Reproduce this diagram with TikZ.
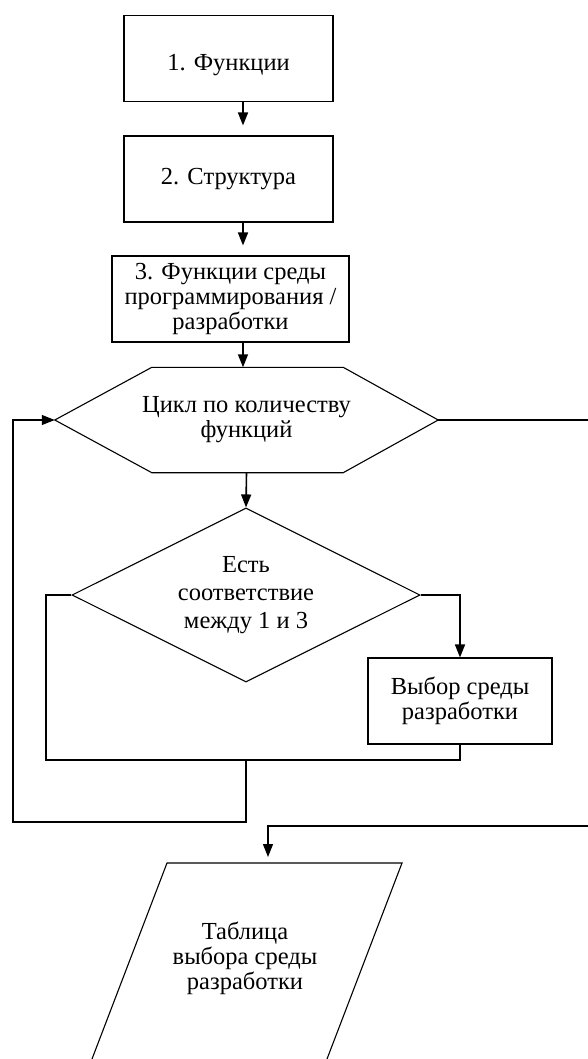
\documentclass[tikz,border=0pt]{standalone}
\usepackage{fontspec}
\setmainfont{Liberation Serif}
\usetikzlibrary{shapes.geometric,arrows.meta}

\tikzset{
	box/.style={draw, line width=1.1pt, align=center, inner sep=0pt, minimum height=86pt},
	choice/.style={diamond, aspect=2, draw, line width=1.1pt, align=center, inner sep=0pt, minimum width=348pt, minimum height=174pt},
	tip/.style={-{Triangle[length=13pt,width=10pt]}},
	wire/.style={line width=1.1pt},
	arr/.style={tip, line width=1.6pt},
}

\begin{document}
\begin{tikzpicture}[x=1pt, y=-1pt, font=\fontsize{24.5}{25}\selectfont]

\useasboundingbox (0,0) rectangle (588,1059);

\coordinate (axis) at (243,0);

\foreach \nm/\cx/\cy/\bw/\txt in {fun/228.5/58.5/209/{\raisebox{-6pt}[17pt][5pt]{1. Функции}}, str/228.5/179/209/{2. Структура}, env/230.5/299/237/{3. Функции среды\\программирования /\\разработки}}
{
	\node[box, minimum width=\bw pt] (\nm) at (\cx, \cy) {\txt};
}

\foreach \a/\b in {fun/str, str/env}
{
	\draw[arr, shorten >=10pt] (\a.south -| axis) -- (\b.north -| axis);
}

% hexagon of the loop
\node[align=center, inner sep=0pt, minimum width=383pt, minimum height=105pt] (loop) at (246.5,420) {Цикл по количеству\\функций};
\draw[wire] (loop.west) -- ([xshift=97pt]loop.north west) -- ([xshift=-95pt]loop.north east) -- (loop.east)
	-- ([xshift=-95pt]loop.south east) -- ([xshift=97pt]loop.south west) -- cycle;

\draw[arr] (env.south -| axis) -- (loop.north -| axis);

\node[choice, font=\fontsize{24.5}{28}\selectfont] (match) at (246,595) {Есть\\соответствие\\между 1 и 3};
\node[box, minimum width=184pt] (pick) at (460,701) {Выбор среды\\разработки};

\draw[arr] (loop.south) -- (match.north);
\draw[arr] (match.east) -| (pick.north);

\coordinate (nobranch) at (46,760);
\coordinate (low) at (246,760);
\coordinate (back) at (13,822);

\draw[wire] (match.west) -| (nobranch) -| (pick.south);
\draw[wire, tip] (low) |- (back) |- (loop.west);

% exit of the loop
\coordinate (exit) at (588,420);
\coordinate (reentry) at (588,826);
\coordinate (tabtop) at (268,863);

\draw[wire] (loop.east) -- (exit);
\draw[arr, line width=1.1pt, shorten >=6pt] (reentry) -| (tabtop);

\coordinate (tl) at (167,863);
\coordinate (tr) at (402,863);
\coordinate (bl) at (92,1059);
\coordinate (br) at (327,1059);
\draw[wire] (bl) -- (tl) -- (tr) -- (br);
\node[align=center] (table) at (245,958) {Таблица\\выбора среды\\разработки};

\end{tikzpicture}
\end{document}
